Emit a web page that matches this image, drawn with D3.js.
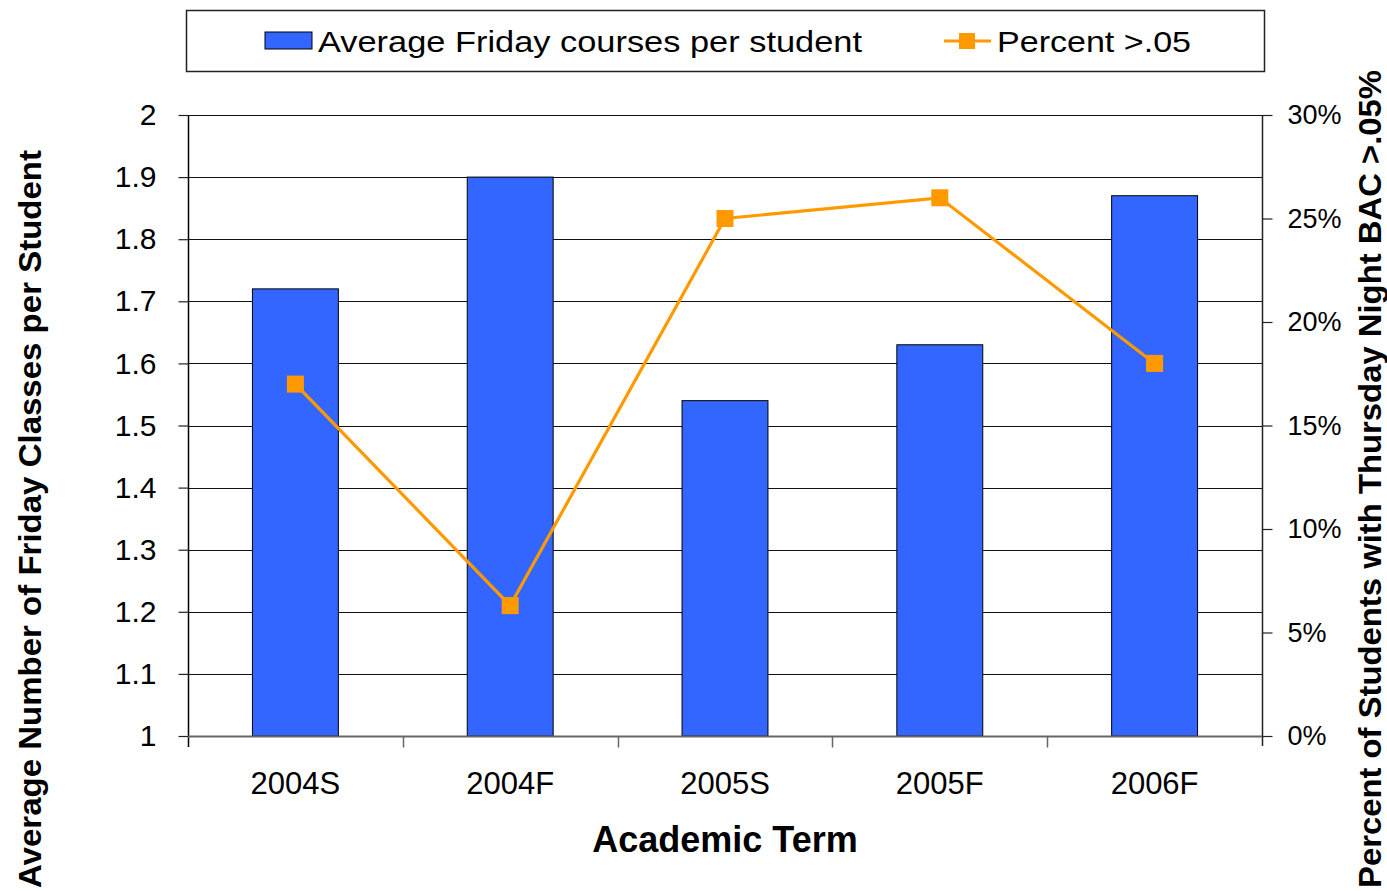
<!DOCTYPE html>
<html>
<head>
<meta charset="utf-8">
<script src="https://cdn.jsdelivr.net/npm/d3@7"></script>
<style>
  body { margin: 0; background: #fff; }
  text { font-family: "Liberation Sans", Arial, sans-serif; fill: #000; }
</style>
</head>
<body>
<div id="chart"></div>
<script>
// data
var terms = ["2004S", "2004F", "2005S", "2005F", "2006F"];
var fridayCourses = [1.72, 1.90, 1.54, 1.63, 1.87];
var pctOver05 = [0.17, 0.063, 0.25, 0.26, 0.18];
var leftTicks = [1, 1.1, 1.2, 1.3, 1.4, 1.5, 1.6, 1.7, 1.8, 1.9, 2];
var rightTicks = [0, 0.05, 0.10, 0.15, 0.20, 0.25, 0.30];

var w = 1387, h = 891;
var plot = { left: 188, right: 1262, top: 115, bottom: 736 };

var svg = d3.select("#chart").append("svg")
  .attr("width", w)
  .attr("height", h);

// scales
var xScale = d3.scaleBand()
  .domain(terms)
  .range([plot.left, plot.right])
  .padding(0);

var yLeft = d3.scaleLinear()
  .domain([1, 2])
  .range([plot.bottom, plot.top]);

var yRight = d3.scaleLinear()
  .domain([0, 0.3])
  .range([plot.bottom, plot.top]);

// gridlines
svg.append("g")
  .selectAll("line")
  .data(leftTicks.slice(1))
  .enter()
  .append("line")
  .attr("x1", plot.left)
  .attr("x2", plot.right)
  .attr("y1", d => Math.round(yLeft(d)) + 0.5)
  .attr("y2", d => Math.round(yLeft(d)) + 0.5)
  .attr("stroke", "#111")
  .attr("stroke-width", 1.2);

// bars
var barW = xScale.bandwidth() * 0.4;
svg.append("g")
  .selectAll("rect")
  .data(fridayCourses)
  .enter()
  .append("rect")
  .attr("x", (d, i) => xScale(terms[i]) + (xScale.bandwidth() - barW) / 2)
  .attr("y", d => yLeft(d))
  .attr("width", barW)
  .attr("height", d => yLeft(1) - yLeft(d))
  .attr("fill", "#3366FF")
  .attr("stroke", "#000")
  .attr("stroke-width", 1);

// left axis
var leftAxis = d3.axisLeft(yLeft)
  .tickValues(leftTicks)
  .tickFormat(d3.format("~g"))
  .tickSize(10)
  .tickPadding(22);
var gL = svg.append("g")
  .attr("transform", `translate(${plot.left + 0.5},0)`)
  .call(leftAxis);
gL.select(".domain").attr("d", `M0,${plot.top}V${plot.bottom + 11}`).attr("stroke", "#000").attr("stroke-width", 1.5);
gL.selectAll(".tick line").attr("stroke", "#222").attr("stroke-width", 1.2);
gL.selectAll(".tick text").style("font-size", "30px").attr("fill", "#000")
  .style("font-family", "Liberation Sans, Arial, sans-serif");

// right axis
var rightAxis = d3.axisRight(yRight)
  .tickValues(rightTicks)
  .tickFormat(d3.format(".0%"))
  .tickSize(10)
  .tickPadding(15);
var gR = svg.append("g")
  .attr("transform", `translate(${plot.right + 0.5},0)`)
  .call(rightAxis);
gR.select(".domain").attr("d", `M0,${plot.top}V${plot.bottom + 10}`).attr("stroke", "#222").attr("stroke-width", 1.5);
gR.selectAll(".tick line").attr("stroke", "#222").attr("stroke-width", 1.2);
gR.selectAll(".tick text").style("font-size", "27px").attr("fill", "#000")
  .style("font-family", "Liberation Sans, Arial, sans-serif");

// bottom axis: ticks at category boundaries, labels centred
var bottomAxis = d3.axisBottom(xScale).tickSize(0).tickPadding(35);
var gB = svg.append("g")
  .attr("transform", `translate(0,${plot.bottom + 0.5})`)
  .call(bottomAxis);
gB.select(".domain").attr("d", `M${plot.left},0H${plot.right}`).attr("stroke", "#666").attr("stroke-width", 2);
gB.selectAll(".tick text").style("font-size", "31px").attr("fill", "#000")
  .style("font-family", "Liberation Sans, Arial, sans-serif");
gB.selectAll("line.sep")
  .data(terms.slice(1))
  .enter()
  .append("line")
  .attr("class", "sep")
  .attr("x1", d => Math.round(xScale(d)) + 0.5)
  .attr("x2", d => Math.round(xScale(d)) + 0.5)
  .attr("y1", 0)
  .attr("y2", 11)
  .attr("stroke", "#666")
  .attr("stroke-width", 1.5);

// line series
var line = d3.line()
  .x((d, i) => xScale(terms[i]) + xScale.bandwidth() / 2)
  .y(d => yRight(d));
svg.append("path")
  .datum(pctOver05)
  .attr("d", line)
  .attr("fill", "none")
  .attr("stroke", "#FF9900")
  .attr("stroke-width", 3.2);
svg.append("g")
  .selectAll("rect")
  .data(pctOver05)
  .enter()
  .append("rect")
  .attr("x", (d, i) => xScale(terms[i]) + xScale.bandwidth() / 2 - 8.5)
  .attr("y", d => yRight(d) - 8.5)
  .attr("width", 17)
  .attr("height", 17)
  .attr("fill", "#FF9900");

// axis titles
svg.append("text")
  .attr("x", (plot.left + plot.right) / 2)
  .attr("y", 852)
  .attr("text-anchor", "middle")
  .style("font-size", "36px")
  .style("font-weight", "bold")
  .text("Academic Term");

svg.append("text")
  .attr("transform", "translate(41,519) rotate(-90)")
  .attr("text-anchor", "middle")
  .attr("textLength", 738)
  .attr("lengthAdjust", "spacingAndGlyphs")
  .style("font-size", "31px")
  .style("font-weight", "bold")
  .text("Average Number of Friday Classes per Student");

svg.append("text")
  .attr("transform", "translate(1381,479) rotate(-90)")
  .attr("text-anchor", "middle")
  .attr("textLength", 818)
  .attr("lengthAdjust", "spacingAndGlyphs")
  .style("font-size", "31px")
  .style("font-weight", "bold")
  .text("Percent of Students with Thursday Night BAC >.05%");

// legend
var legend = svg.append("g");
legend.append("rect")
  .attr("x", 186.5).attr("y", 10.5)
  .attr("width", 1078).attr("height", 61)
  .attr("fill", "#fff")
  .attr("stroke", "#222")
  .attr("stroke-width", 1.5);
legend.append("rect")
  .attr("x", 265).attr("y", 32)
  .attr("width", 47).attr("height", 17)
  .attr("fill", "#3366FF")
  .attr("stroke", "#000");
legend.append("text")
  .attr("x", 318).attr("y", 52)
  .attr("textLength", 544)
  .attr("lengthAdjust", "spacingAndGlyphs")
  .style("font-size", "30px")
  .text("Average Friday courses per student");
legend.append("line")
  .attr("x1", 944).attr("x2", 991)
  .attr("y1", 41).attr("y2", 41)
  .attr("stroke", "#FF9900")
  .attr("stroke-width", 3.2);
legend.append("rect")
  .attr("x", 959).attr("y", 33)
  .attr("width", 16).attr("height", 16)
  .attr("fill", "#FF9900");
legend.append("text")
  .attr("x", 997).attr("y", 52)
  .attr("textLength", 194)
  .attr("lengthAdjust", "spacingAndGlyphs")
  .style("font-size", "30px")
  .text("Percent >.05");
</script>
</body>
</html>
